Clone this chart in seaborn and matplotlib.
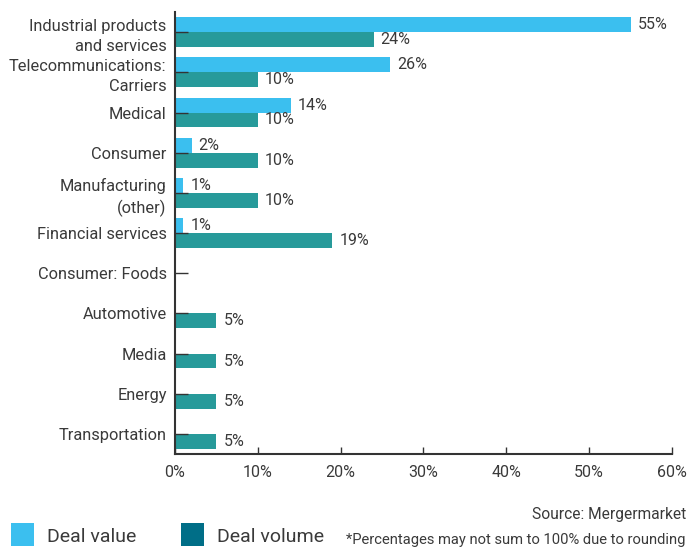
import matplotlib
matplotlib.use("Agg")
import matplotlib.pyplot as plt
import seaborn as sns
import pandas as pd
from matplotlib.patches import Rectangle

categories = ["Industrial products\nand services", "Telecommunications:\nCarriers", "Medical",
              "Consumer", "Manufacturing\n(other)", "Financial services", "Consumer: Foods",
              "Automotive", "Media", "Energy", "Transportation"]
deal_value = [55, 26, 14, 2, 1, 1, 0, 0, 0, 0, 0]
deal_volume = [24, 10, 10, 10, 10, 19, 0, 5, 5, 5, 5]
x_ticks = [0, 10, 20, 30, 40, 50, 60]

series_names = ["Deal value", "Deal volume"]
bar_colors = {"Deal value": "#3BBFEF", "Deal volume": "#279A9A"}
legend_colors = ["#3BBFEF", "#006E87"]

df = pd.DataFrame({
    "cat": categories * 2,
    "pct": deal_value + deal_volume,
    "series": [series_names[0]] * len(categories) + [series_names[1]] * len(categories),
})

sns.set_style("white")
plt.rcParams["font.family"] = ["Roboto", "DejaVu Sans"]
txt = "#3a3a3a"

fig = plt.figure(figsize=(6.89, 5.49), dpi=100)
ax = fig.add_axes([0.254, 0.173, 0.7213, 0.805])
sns.barplot(data=df, y="cat", x="pct", hue="series", palette=bar_colors,
            orient="h", width=0.74, dodge=True, ax=ax, legend=False, saturation=1,
            linewidth=0)

for cont, vals in zip(ax.containers, [deal_value, deal_volume]):
    labels = [f"{v}%" if v > 0 else "" for v in vals]
    ax.bar_label(cont, labels=labels, padding=5, fontsize=11.5, color=txt)

ax.set_xlim(0, 60)
ax.set_ylim(len(categories) - 0.5, -0.5)
ax.set_xticks(x_ticks)
ax.set_xticklabels([f"{t}%" for t in x_ticks], fontsize=11.5, color=txt)
ax.set_yticks(range(len(categories)))
ax.set_yticklabels(categories, fontsize=11.8, color=txt, linespacing=1.45)
ax.set_xlabel("")
ax.set_ylabel("")
for s in ["top", "right"]:
    ax.spines[s].set_visible(False)
for s in ["left", "bottom"]:
    ax.spines[s].set_color("#333333")
    ax.spines[s].set_linewidth(1.5)
ax.tick_params(axis="y", left=True, direction="in", length=9, width=1, color="#333333", pad=6)
ax.tick_params(axis="x", bottom=True, direction="in", length=5, width=1, color="#333333", pad=8)
ax.yaxis.set_zorder(5)

fig.text(0.9956, 0.063, "Source: Mergermarket", ha="right", va="center", fontsize=11.2, color=txt)
fig.text(0.9956, 0.017, "*Percentages may not sum to 100% due to rounding", ha="right", va="center",
         fontsize=10.6, color=txt)
W, H = 689, 549
for (x0, label, lx), col in zip([(11, "Deal value", 47), (181, "Deal volume", 217)], legend_colors):
    fig.add_artist(Rectangle((x0 / W, 3 / H), 23 / W, 23 / H, transform=fig.transFigure,
                             color=col, lw=0))
    fig.text(lx / W, 12 / H, label, ha="left", va="center", fontsize=14, color=txt)

fig.savefig("out.png", dpi=100)
